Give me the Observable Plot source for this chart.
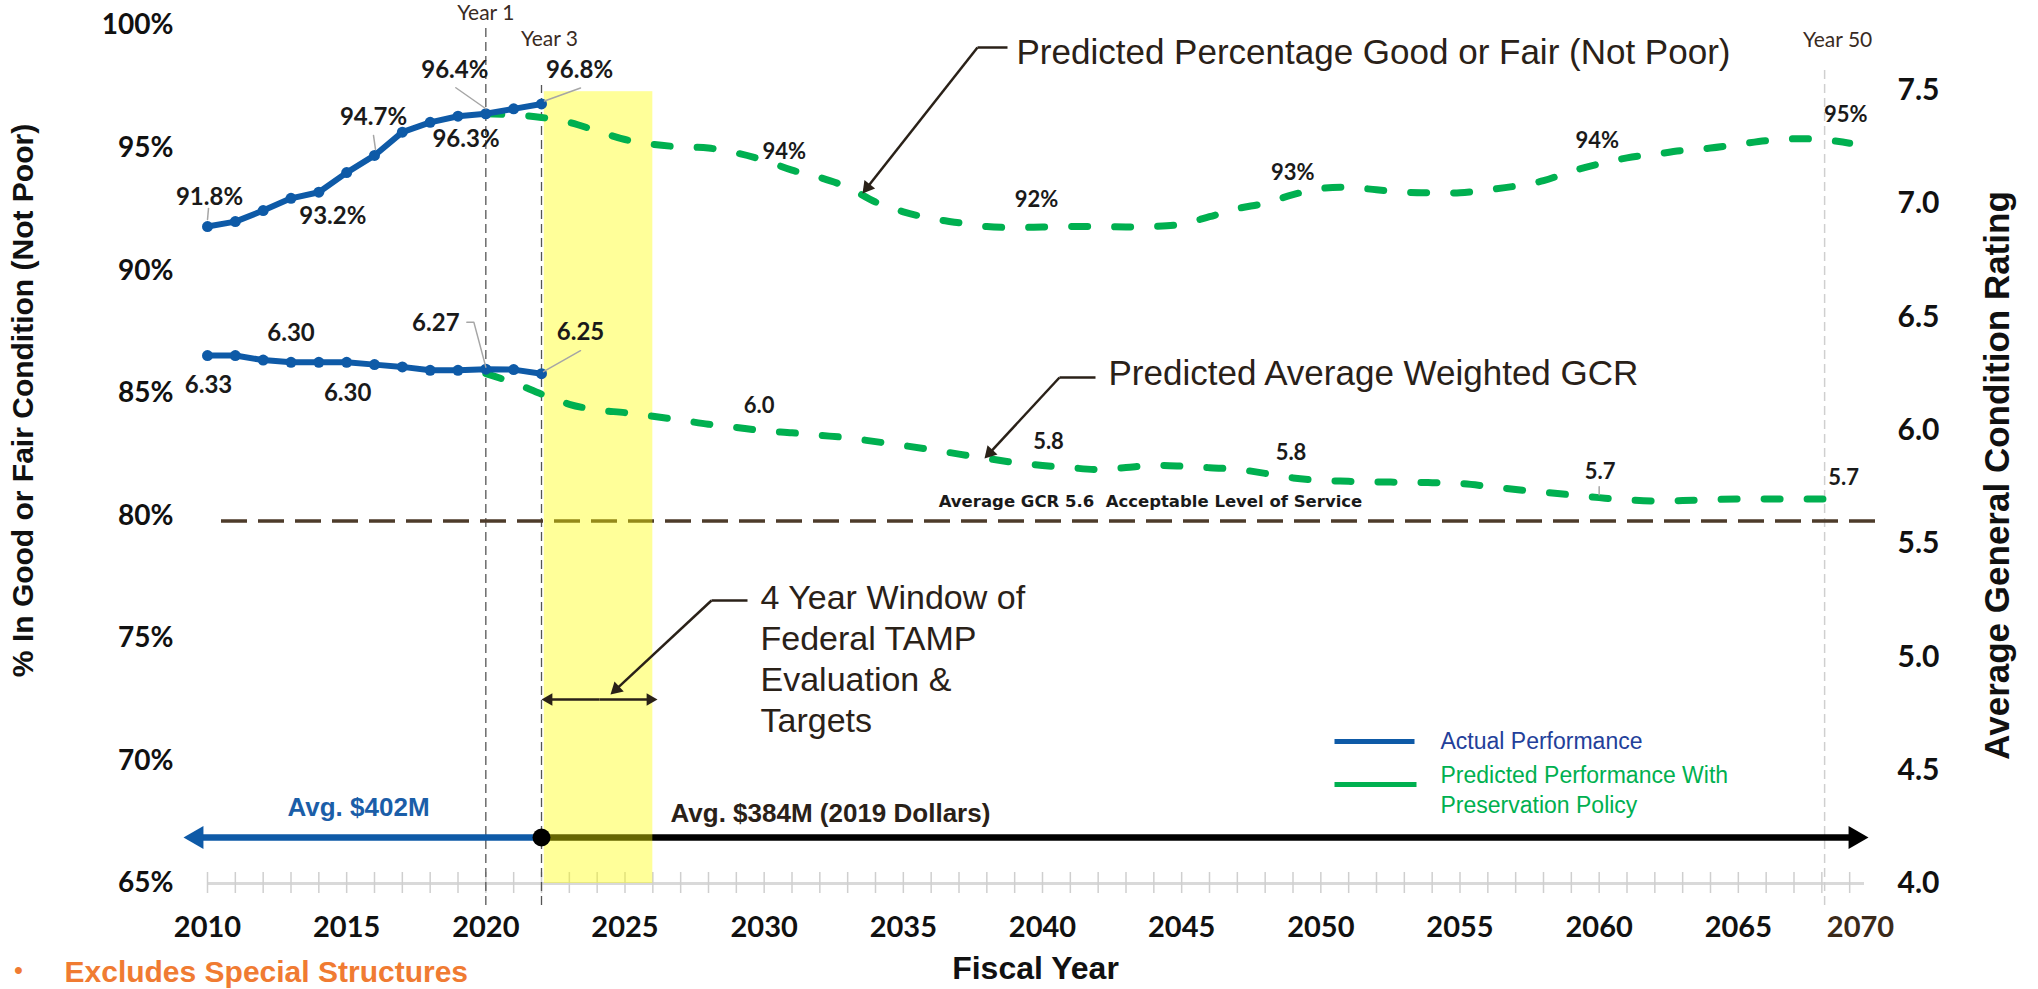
<!DOCTYPE html>
<html>
<head>
<meta charset="utf-8">
<script src="https://cdn.jsdelivr.net/npm/d3@7"></script>
<script src="https://cdn.jsdelivr.net/npm/@observablehq/plot@0.6"></script>
<style>
  html, body { margin: 0; padding: 0; background: #fff; }
  #chart { width: 2038px; height: 989px; }
</style>
</head>
<body>
<div id="chart"></div>
<script>
// ---------------- DATA ----------------
const actualYears = [2010, 2011, 2012, 2013, 2014, 2015, 2016, 2017, 2018, 2019, 2020, 2021, 2022];
const actualPct   = [91.8, 92.0, 92.45, 92.95, 93.2, 94.0, 94.7, 95.65, 96.05, 96.3, 96.4, 96.6, 96.8];
const actualGcr   = [6.33, 6.33, 6.31, 6.30, 6.30, 6.30, 6.29, 6.28, 6.265, 6.265, 6.27, 6.268, 6.25];

const predictedYears = [2020, 2021, 2022, 2023, 2024, 2025, 2026, 2027, 2028, 2029,
                        2030, 2031, 2032, 2033, 2034, 2035, 2036, 2037, 2038, 2039,
                        2040, 2041, 2042, 2043, 2044, 2045, 2046, 2047, 2048, 2049,
                        2050, 2051, 2052, 2053, 2054, 2055, 2056, 2057, 2058, 2059,
                        2060, 2061, 2062, 2063, 2064, 2065, 2066, 2067, 2068, 2069];
const predictedPct = [96.4, 96.35, 96.25, 96.05, 95.7, 95.35, 95.15, 95.05, 95.0, 94.8,
                      94.5, 94.1, 93.8, 93.4, 92.8, 92.4, 92.13, 91.95, 91.8, 91.76,
                      91.78, 91.8, 91.8, 91.78, 91.8, 91.9, 92.2, 92.53, 92.75, 93.1,
                      93.35, 93.4, 93.3, 93.2, 93.18, 93.18, 93.3, 93.45, 93.67, 94.05,
                      94.35, 94.6, 94.75, 94.9, 95.0, 95.15, 95.3, 95.38, 95.35, 95.2];
const predictedGcr = [6.25, 6.21, 6.16, 6.115, 6.09, 6.078, 6.062, 6.045, 6.027, 6.013,
                      5.998, 5.989, 5.978, 5.967, 5.95, 5.933, 5.915, 5.895, 5.876, 5.858,
                      5.845, 5.835, 5.827, 5.836, 5.845, 5.842, 5.835, 5.828, 5.81, 5.79,
                      5.779, 5.775, 5.772, 5.771, 5.769, 5.765, 5.753, 5.739, 5.727, 5.715,
                      5.703, 5.693, 5.688, 5.69, 5.694, 5.697, 5.697, 5.697, 5.697, 5.697];

const xTickYears = [2010, 2015, 2020, 2025, 2030, 2035, 2040, 2045, 2050, 2055, 2060, 2065];
const lastYearLabel = "2070";
const leftTicks  = [65, 70, 75, 80, 85, 90, 95, 100];
const rightTicks = [4.0, 4.5, 5.0, 5.5, 6.0, 6.5, 7.0, 7.5];
const gcrTarget = 5.6;
const tampWindow = [2022, 2026];
const milestoneYears = [{year: 2020, text: "Year 1"}, {year: 2022, text: "Year 3"}, {year: 2068.1, text: "Year 50"}];

const actualPctLabels = [
  {year: 2010, text: "91.8%"}, {year: 2014, text: "93.2%"}, {year: 2016, text: "94.7%"},
  {year: 2019, text: "96.3%"}, {year: 2020, text: "96.4%"}, {year: 2022, text: "96.8%"}
];
const actualGcrLabels = [
  {year: 2010, text: "6.33"}, {year: 2013, text: "6.30"}, {year: 2015, text: "6.30"},
  {year: 2020, text: "6.27"}, {year: 2022, text: "6.25"}
];
const predictedPctLabels = [
  {year: 2030, text: "94%"}, {year: 2040, text: "92%"}, {year: 2050, text: "93%"},
  {year: 2060, text: "94%"}, {year: 2069, text: "95%"}
];
const predictedGcrLabels = [
  {year: 2030, text: "6.0"}, {year: 2040, text: "5.8"}, {year: 2049, text: "5.8"},
  {year: 2060, text: "5.7"}, {year: 2069, text: "5.7"}
];

// ---------------- LAYOUT ----------------
const W = 2038, H = 989, mL = 207, mR = 161, mT = 25, mB = 106;
const X0 = 2010, X1 = 2070, Y0 = 65, Y1 = 100;
const PXY = (W - mL - mR) / (X1 - X0);   // px per year
const PXP = (H - mT - mB) / (Y1 - Y0);   // px per percent
const px = (x, y) => ({x: X0 + (x - mL) / PXY, y: Y0 + (H - mB - y) / PXP});
const gcrToPct = g => 65 + (g - 4) * 9.243;
const pctToGcr = p => 4 + (p - 65) / 9.243;

const BLUE = "#0e5aa7", GREEN = "#00b050", INK = "#2a2118";
const NUM = "Lato, 'Open Sans', sans-serif";
const SANS = "'Liberation Sans', Arial, sans-serif";
const WIDE = "'DejaVu Sans', Verdana, sans-serif";

const actual = actualYears.map((year, i) => ({year, pct: actualPct[i], gcr: gcrToPct(actualGcr[i])}));
const predicted = predictedYears.map((year, i) => ({year, pct: predictedPct[i], gcr: gcrToPct(predictedGcr[i])}));

// label offsets (pixels) kept in code
const actualPctOff = [[2, -29], [14, 24], [-1, -38], [8, 23], [-31, -43], [38, -34]];
const actualGcrOff = [[1, 30], [0, -29], [1, 31], [-50, -46], [39, -41]];
const predPctOff = [[20, -8], [-6, -27], [-28, -16], [-2, -23], [-4, -28]];
const predGcrOff = [[-5, -25], [6, -23], [-2, -25], [1, -26], [-6, -21]];

function labels(rows, key, defs, offs, style) {
  return defs.map((d, i) => {
    const row = rows.find(r => r.year === d.year);
    return Plot.text([row], {x: "year", y: key, text: () => d.text, dx: offs[i][0], dy: offs[i][1], ...style});
  });
}
function leader(rows, key, year, pts) {
  const row = rows.find(r => r.year === year);
  const data = pts.map(([dx, dy]) => ({x: row.year + dx / PXY, y: row[key] - dy / PXP}));
  return Plot.line(data, {x: "x", y: "y", stroke: "#a6a6a6", strokeWidth: 1.5});
}
const P = (x, y) => px(x, y);
function seg(a, b, opts) {
  const A = P(...a), B = P(...b);
  return Plot.link([0], {x1: A.x, y1: A.y, x2: B.x, y2: B.y, ...opts});
}
// line with a filled triangular head at b
function headed(a, b, r = 6.5, width = 2.5) {
  const dx = b[0] - a[0], dy = b[1] - a[1], len = Math.hypot(dx, dy);
  const ux = dx / len, uy = dy / len;
  const s = 1.2095 * r;                       // tip distance of triangle2 from its centre
  const c = [b[0] - ux * s, b[1] - uy * s];   // symbol centre
  const end = [b[0] - ux * s * 1.2, b[1] - uy * s * 1.2];
  const C = P(...c);
  const angle = Math.atan2(dy, dx) * 180 / Math.PI + 90;
  return [
    seg(a, end, {stroke: INK, strokeWidth: width}),
    Plot.dot([0], {x: C.x, y: C.y, symbol: "triangle2", r, rotate: angle, fill: INK})
  ];
}
function note(x, y, text, opts) {
  const A = P(x, y);
  return Plot.text([0], {x: A.x, y: A.y, text: () => text, ...opts});
}

const labStyleA = {fontFamily: NUM, fontWeight: "bold", fontSize: 24, fill: "#1a1a1a"};
const labStyleP = {fontFamily: NUM, fontWeight: "bold", fontSize: 22, fill: "#1a1a1a"};
const arrowY = P(0, 837).y;
const allYears = d3.range(2010, 2070);

const chart = Plot.plot({
  width: W, height: H,
  marginLeft: mL, marginRight: mR, marginTop: mT, marginBottom: mB,
  x: {domain: [X0, X1], axis: null},
  y: {domain: [Y0, Y1], axis: null},
  style: {background: "#fff", overflow: "visible"},
  marks: [
    // x axis baseline & minor ticks
    Plot.ruleY([Y0], {x1: X0, x2: P(1864, 0).x, stroke: "#d9d9d9", strokeWidth: 3}),
    Plot.ruleX(allYears, {x: d => d, y1: Y0 - 10 / PXP, y2: Y0 + 11 / PXP, stroke: "#cfcfcf", strokeWidth: 1.5}),
    // milestone vertical lines
    Plot.ruleX([milestoneYears[0]], {x: "year", y1: P(0, 905).y, y2: P(0, 27).y, stroke: "#555", strokeWidth: 1.3, strokeDasharray: "9,5"}),
    Plot.ruleX([milestoneYears[1]], {x: "year", y1: P(0, 905).y, y2: P(0, 85).y, stroke: "#555", strokeWidth: 1.3, strokeDasharray: "9,5"}),
    Plot.ruleX([milestoneYears[2]], {x: "year", y1: P(0, 905).y, y2: P(0, 68).y, stroke: "#cfcfcf", strokeWidth: 1.5, strokeDasharray: "9,5"}),
    // acceptable level of service
    Plot.ruleY([gcrTarget], {y: gcrToPct, x1: P(221, 0).x, x2: P(1878, 0).x, stroke: "#4d3b2a", strokeWidth: 3.5, strokeDasharray: "26,11"}),
    // funding arrows
    Plot.ruleY([arrowY], {x1: P(200, 0).x, x2: tampWindow[0], stroke: BLUE, strokeWidth: 6.5}),
    Plot.ruleY([arrowY], {x1: tampWindow[0], x2: P(1850, 0).x, stroke: "#000", strokeWidth: 6.5}),
    Plot.dot([0], {x: P(196.3, 0).x, y: arrowY, symbol: "triangle2", r: 11, rotate: -90, fill: BLUE}),
    Plot.dot([0], {x: P(1854.7, 0).x, y: arrowY, symbol: "triangle2", r: 11, rotate: 90, fill: "#000"}),
    // TAMP window
    Plot.rect([0], {x1: tampWindow[0] + 0.1, x2: tampWindow[1], y1: Y0, y2: 97.3, fill: "#ffff00", fillOpacity: 0.4}),
    Plot.dot([0], {x: tampWindow[0], y: arrowY, r: 9, fill: "#000"}),
    // predicted lines
    Plot.line(predicted, {x: "year", y: "pct", stroke: GREEN, strokeWidth: 7, strokeDasharray: "16,27", strokeLinecap: "round", curve: "catmull-rom"}),
    Plot.line(predicted, {x: "year", y: "gcr", stroke: GREEN, strokeWidth: 7, strokeDasharray: "16,27", strokeLinecap: "round", curve: "catmull-rom"}),
    // actual lines
    Plot.line(actual, {x: "year", y: "pct", stroke: BLUE, strokeWidth: 6}),
    Plot.dot(actual, {x: "year", y: "pct", r: 5.5, fill: BLUE}),
    Plot.line(actual, {x: "year", y: "gcr", stroke: BLUE, strokeWidth: 6}),
    Plot.dot(actual, {x: "year", y: "gcr", r: 5.5, fill: BLUE}),
    // leaders
    leader(actual, "pct", 2010, [[1, -18], [0, -7]]),
    leader(actual, "pct", 2016, [[-1, -20], [1, -6]]),
    leader(actual, "pct", 2020, [[-30, -26], [0, -5]]),
    leader(actual, "pct", 2022, [[39, -16], [3, -3]]),
    leader(actual, "gcr", 2020, [[-19, -47], [-12, -47], [0, -2]]),
    leader(actual, "gcr", 2022, [[39, -23], [2, -2]]),
    leader(predicted, "gcr", 2060, [[0, -11], [0, -3]]),
    // data labels
    ...labels(actual, "pct", actualPctLabels, actualPctOff, labStyleA),
    ...labels(actual, "gcr", actualGcrLabels, actualGcrOff, labStyleA),
    ...labels(predicted, "pct", predictedPctLabels, predPctOff, labStyleP),
    ...labels(predicted, "gcr", predictedGcrLabels, predGcrOff, labStyleP),
    // milestone labels
    Plot.text([milestoneYears[0]], {x: "year", y: P(0, 13).y, text: "text", fontFamily: NUM, fontSize: 21, fill: "#3a2b1f"}),
    Plot.text([milestoneYears[1]], {x: "year", y: P(0, 39).y, text: "text", dx: 8, fontFamily: NUM, fontSize: 21, fill: "#3a2b1f"}),
    Plot.text([milestoneYears[2]], {x: "year", y: P(0, 40).y, text: "text", dx: 13, fontFamily: NUM, fontSize: 21, fill: "#3a2b1f"}),
    // annotations
    seg([1007, 47], [977, 47], {stroke: INK, strokeWidth: 2.5}),
    ...headed([977, 47], [862, 193]),
    note(1016, 52, "Predicted Percentage Good or Fair (Not Poor)", {textAnchor: "start", fontFamily: SANS, fontSize: 35, fill: INK}),
    seg([1095, 377], [1059, 377], {stroke: INK, strokeWidth: 2.5}),
    ...headed([1059, 377], [984, 458]),
    note(1108, 373, "Predicted Average Weighted GCR", {textAnchor: "start", fontFamily: SANS, fontSize: 35, fill: INK}),
    seg([747, 600], [711, 600], {stroke: INK, strokeWidth: 2.5}),
    ...headed([711, 600], [610, 694]),
    ...headed([599, 699], [541, 699], 6),
    ...headed([599, 699], [657, 699], 6),
    note(760, 657, "4 Year Window of\nFederal TAMP\nEvaluation &\nTargets", {textAnchor: "start", lineHeight: 1.2, fontFamily: SANS, fontSize: 34, fill: INK}),
    note(1150, 501, "Average GCR 5.6\u00a0 Acceptable Level of Service", {fontFamily: WIDE, fontWeight: "bold", fontSize: 16.5, fill: "#1a1a1a"}),
    note(358, 807, "Avg. $402M", {fontFamily: SANS, fontWeight: "bold", fontSize: 26, fill: "#1b5ea8"}),
    note(670, 813, "Avg. $384M (2019 Dollars)", {textAnchor: "start", fontFamily: SANS, fontWeight: "bold", fontSize: 26, fill: INK}),
    // legend
    seg([1334, 741], [1414, 741], {stroke: BLUE, strokeWidth: 5}),
    seg([1334, 784], [1416, 784], {stroke: GREEN, strokeWidth: 5}),
    note(1440, 741, "Actual Performance", {textAnchor: "start", fontFamily: SANS, fontSize: 23, fill: "#23409a"}),
    note(1440, 788, "Predicted Performance With\nPreservation Policy", {textAnchor: "start", lineHeight: 1.3, fontFamily: SANS, fontSize: 23, fill: GREEN}),
    // axes
    Plot.axisY({anchor: "left", ticks: leftTicks, tickFormat: d => d + "%", tickSize: 0, tickPadding: 34,
      fontFamily: NUM, fontWeight: "bold", fontSize: 28, fill: "#111", label: null}),
    Plot.axisY({anchor: "right", ticks: rightTicks.map(gcrToPct), tickFormat: p => pctToGcr(p).toFixed(1), tickSize: 0, tickPadding: 20,
      fontFamily: NUM, fontWeight: "bold", fontSize: 30, fill: "#111", label: null}),
    Plot.axisX({ticks: xTickYears, tickFormat: d => String(d), tickSize: 0, tickPadding: 33,
      fontFamily: NUM, fontWeight: "bold", fontSize: 29, fill: "#111", label: null}),
    note(1860, 927, lastYearLabel, {fontFamily: NUM, fontWeight: "bold", fontSize: 29, fill: "#3b2a1a"}),
    note(1035, 968, "Fiscal Year", {fontFamily: SANS, fontWeight: "bold", fontSize: 32, fill: "#111"}),
    note(23, 400, "% In Good or Fair Condition (Not Poor)", {rotate: -90, fontFamily: SANS, fontWeight: "bold", fontSize: 30, fill: "#111"}),
    note(1997, 475, "Average General Condition Rating", {rotate: -90, fontFamily: SANS, fontWeight: "bold", fontSize: 35, fill: "#111"}),
    note(18, 970, "•", {fontFamily: SANS, fontWeight: "bold", fontSize: 24, fill: "#f07b32"}),
    note(64, 972, "Excludes Special Structures", {textAnchor: "start", fontFamily: SANS, fontWeight: "bold", fontSize: 30, fill: "#f07b32"})
  ]
});
document.getElementById("chart").appendChild(chart);
</script>
</body>
</html>
